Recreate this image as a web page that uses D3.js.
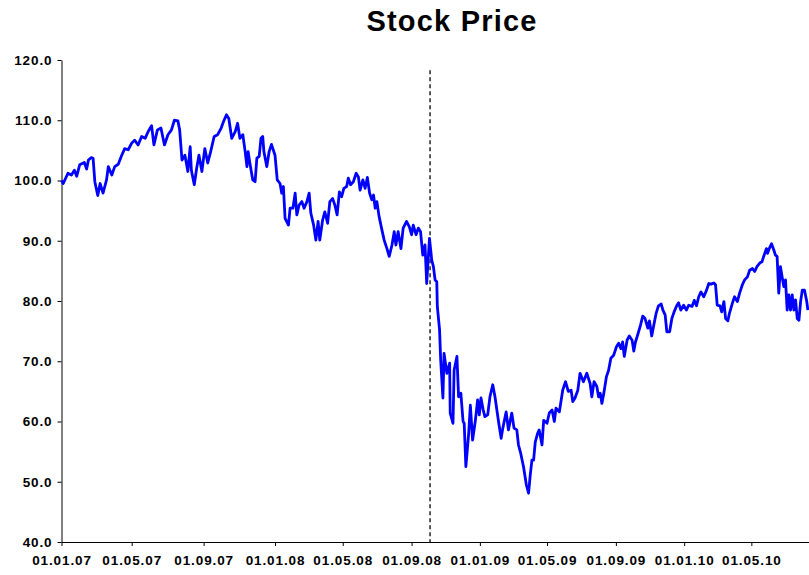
<!DOCTYPE html>
<html>
<head>
<meta charset="utf-8">
<script src="https://cdn.jsdelivr.net/npm/d3@7"></script>
<style>
  body { margin: 0; background: #fff; }
  svg { display: block; font-family: "Liberation Sans", Arial, sans-serif; }
</style>
</head>
<body>
<div id="chart"></div>
<script>
// price series
const dates = [
  "01.01.07","04.01.07","12.01.07","18.01.07","23.01.07","27.01.07","01.02.07","09.02.07","13.02.07","16.02.07",
  "21.02.07","24.02.07","27.02.07","04.03.07","08.03.07","13.03.07","19.03.07","22.03.07","28.03.07","02.04.07",
  "08.04.07","14.04.07","19.04.07","25.04.07","01.05.07","06.05.07","12.05.07","18.05.07","24.05.07","29.05.07",
  "04.06.07","08.06.07","14.06.07","20.06.07","26.06.07","02.07.07","08.07.07","13.07.07","19.07.07","22.07.07",
  "26.07.07","31.07.07","05.08.07","09.08.07","11.08.07","16.08.07","20.08.07","24.08.07","29.08.07","03.09.07",
  "08.09.07","13.09.07","19.09.07","25.09.07","01.10.07","05.10.07","10.10.07","14.10.07","19.10.07","25.10.07",
  "29.10.07","02.11.07","07.11.07","11.11.07","14.11.07","16.11.07","19.11.07","24.11.07","28.11.07","01.12.07",
  "05.12.07","08.12.07","11.12.07","13.12.07","18.12.07","22.12.07","26.12.07",
  "01.01.08","05.01.08","10.01.08","13.01.08","16.01.08","19.01.08","25.01.08","28.01.08","02.02.08","06.02.08",
  "09.02.08","13.02.08","18.02.08","22.02.08","27.02.08","02.03.08","05.03.08","10.03.08","14.03.08","18.03.08",
  "21.03.08","26.03.08","30.03.08","04.04.08","08.04.08","13.04.08","17.04.08","21.04.08","25.04.08","29.04.08",
  "03.05.08","08.05.08","11.05.08","15.05.08","20.05.08","25.05.08","29.05.08","01.06.08","06.06.08","10.06.08",
  "14.06.08","18.06.08","22.06.08","25.06.08","28.06.08","01.07.08","05.07.08","10.07.08","14.07.08","19.07.08",
  "23.07.08","28.07.08","01.08.08","04.08.08","08.08.08","13.08.08","17.08.08","23.08.08","28.08.08","01.09.08",
  "04.09.08","09.09.08","13.09.08","17.09.08","21.09.08","25.09.08","28.09.08","03.10.08","07.10.08","10.10.08",
  "13.10.08","16.10.08","17.10.08","21.10.08","23.10.08","27.10.08","29.10.08","03.11.08","08.11.08","09.11.08",
  "14.11.08","16.11.08","21.11.08","24.11.08","28.11.08","02.12.08","04.12.08","07.12.08","12.12.08","15.12.08",
  "19.12.08","24.12.08","28.12.08","31.12.08",
  "03.01.09","07.01.09","10.01.09","15.01.09","19.01.09","24.01.09","28.01.09","03.02.09","08.02.09","11.02.09",
  "17.02.09","21.02.09","27.02.09","03.03.09","08.03.09","11.03.09","15.03.09","20.03.09","25.03.09","29.03.09",
  "01.04.09","04.04.09","07.04.09","10.04.09","14.04.09","17.04.09","22.04.09","25.04.09","01.05.09","05.05.09",
  "10.05.09","14.05.09","17.05.09","23.05.09","29.05.09","03.06.09","08.06.09","13.06.09","16.06.09","20.06.09",
  "25.06.09","29.06.09","05.07.09","11.07.09","17.07.09","20.07.09","24.07.09","29.07.09","01.08.09","04.08.09",
  "07.08.09","11.08.09","15.08.09","19.08.09","23.08.09","28.08.09","02.09.09","06.09.09","10.09.09","13.09.09",
  "16.09.09","21.09.09","25.09.09","30.09.09","03.10.09","06.10.09","10.10.09","15.10.09","19.10.09","23.10.09",
  "28.10.09","31.10.09","04.11.09","09.11.09","12.11.09","16.11.09","21.11.09","24.11.09","28.11.09","01.12.09",
  "06.12.09","10.12.09","14.12.09","19.12.09","22.12.09","26.12.09","31.12.09",
  "05.01.10","09.01.10","15.01.10","19.01.10","23.01.10","27.01.10","31.01.10","05.02.10","10.02.10","14.02.10",
  "18.02.10","23.02.10","26.02.10","01.03.10","06.03.10","09.03.10","13.03.10","16.03.10","20.03.10","23.03.10",
  "28.03.10","01.04.10","06.04.10","10.04.10","15.04.10","19.04.10","24.04.10","28.04.10","03.05.10","07.05.10",
  "11.05.10","16.05.10","20.05.10","23.05.10","28.05.10","30.05.10","02.06.10","06.06.10","10.06.10","13.06.10",
  "16.06.10","19.06.10","22.06.10","25.06.10","28.06.10","01.07.10","04.07.10","07.07.10","10.07.10","13.07.10",
  "16.07.10","19.07.10","22.07.10","25.07.10","28.07.10","31.07.10","04.08.10","08.08.10","10.08.10"
];

const prices = [
  100.0, 99.5,101.2,100.9,101.7,100.7,102.6,103.0,101.9,103.4,
  103.8,103.7, 99.8, 97.5, 99.5, 97.9,100.1,102.3,100.9,102.3,
  102.7,104.2,105.3,105.1,106.2,106.7,105.9,107.3,107.0,108.1,
  109.1,105.9,108.4,108.7,105.9,107.6,108.4,110.0,109.9,108.4,
  103.4,104.2,101.5,105.6,101.7, 99.3,102.0,104.2,101.5,105.3,
  102.9,104.8,107.3,107.6,108.7,109.8,110.9,110.3,107.0,108.1,
  109.5,107.0,107.6,104.8,102.3,104.8,102.9,100.1, 99.8,103.7,
  104.0,107.0,107.3,104.8,102.3,104.8,106.0,
  104.2,100.1, 99.5, 97.9, 99.0, 93.7, 92.6, 95.4, 95.4, 97.9,
   94.3, 95.9, 96.5, 95.4, 96.5, 97.9, 94.6, 92.6, 90.1, 93.2,
   90.1, 93.4, 94.8, 92.9, 96.5, 97.0, 95.9, 94.3, 98.1, 97.3,
   98.7, 99.0,100.4, 99.3, 99.8,101.2,100.6, 98.4,100.1, 98.7,
  100.5, 97.9, 96.8, 97.6, 95.4, 96.5, 94.0, 91.8, 90.1, 88.7,
   87.4, 89.3, 91.5, 89.3, 91.5, 88.7, 92.1, 93.2, 92.3, 91.0,
   92.6, 91.0, 92.1, 91.5, 87.6, 89.3, 82.9, 90.4, 86.8, 85.7,
   83.5, 83.2, 79.1, 75.2, 70.2, 63.9, 71.3, 68.0, 69.7, 61.4,
   59.7, 68.5, 70.8, 64.1, 64.7, 60.0, 59.7, 52.5, 58.0, 62.7,
   56.9, 60.2, 63.6, 61.1,
   63.9, 61.9, 60.8, 61.1, 64.1, 66.1, 64.1, 60.2, 57.2, 58.9,
   61.6, 58.6, 61.4, 58.9, 58.6, 56.1, 54.7, 52.5, 49.5, 48.1,
   51.1, 53.6, 53.6, 56.6, 58.0, 58.6, 56.1, 60.2, 59.7, 61.4,
   61.9, 60.0, 62.2, 61.6, 65.2, 66.6, 65.0, 65.2, 63.3, 63.9,
   65.2, 68.0, 66.6, 68.0, 66.3, 64.1, 66.6, 65.8, 64.1, 64.7,
   63.0, 65.0, 67.4, 68.5, 70.5, 71.0, 72.4, 73.0, 72.1, 73.2,
   70.8, 73.5, 74.2, 73.5, 71.7, 73.2, 74.4, 76.0, 77.5, 77.1,
   75.5, 76.7, 74.2, 76.6, 78.0, 79.2, 79.5, 78.5, 77.7, 74.9,
   74.9, 77.1, 78.2, 79.3, 79.7, 78.5, 79.3,
   78.5, 79.3, 79.1, 80.1, 79.2, 80.7, 81.5, 80.7, 81.8, 82.9,
   82.8, 83.0, 82.7, 79.3, 79.2, 78.2, 79.9, 77.1, 76.7, 78.0,
   79.6, 80.7, 79.9, 81.3, 82.7, 83.5, 84.0, 85.1, 85.4, 84.9,
   85.7, 86.3, 86.5, 87.4, 88.7, 87.9, 88.7, 89.5, 88.5, 87.6,
   87.4, 81.3, 85.7, 84.0, 82.4, 83.5, 78.5, 81.0, 78.5, 81.0,
   78.5, 80.2, 77.1, 76.8, 79.9, 81.8, 81.8, 79.9, 78.5
];

const yTicks = [40, 50, 60, 70, 80, 90, 100, 110, 120];
const markerDate = "04.10.08";   // dashed event line
const markerTop = 118.3;
const title = "Stock Price";

const width = 809, height = 575;
const parse = d3.timeParse("%d.%m.%y");
const fmt = d3.timeFormat("%d.%m.%y");

const data = dates.map((d, i) => ({date: parse(d), value: prices[i]}));

const svg = d3.select("#chart").append("svg")
    .attr("width", width)
    .attr("height", height);

// the first year sits a little wider on the original axis
const x = d3.scaleTime()
    .domain([parse("01.01.07"), parse("01.01.08"), parse("12.08.10")])
    .range([61.5, 275, 809]);

const y = d3.scaleLinear()
    .domain([40, 120])
    .range([542, 60]);

svg.append("text")
    .attr("x", 452)
    .attr("y", 31)
    .attr("text-anchor", "middle")
    .attr("font-size", 29)
    .attr("font-weight", "bold")
    .attr("letter-spacing", 1.2)
    .text(title);

const styleTicks = g => g.selectAll(".tick text")
    .attr("font-family", "Liberation Sans, Arial, sans-serif")
    .attr("font-size", 13.5)
    .attr("font-weight", "bold")
    .attr("letter-spacing", 0.9)
    .attr("fill", "#000");

svg.append("g")
    .attr("transform", `translate(${x.range()[0]},0)`)
    .call(d3.axisLeft(y).tickValues(yTicks).tickFormat(d3.format(".1f")).tickSize(4).tickSizeOuter(0))
    .call(g => g.select(".domain").attr("stroke", "#000"))
    .call(g => g.selectAll(".tick line").attr("stroke", "#000"))
    .call(styleTicks)
    .call(g => g.selectAll(".tick text").attr("x", -9));

const xTicks = d3.timeMonth.every(4).range(parse("01.01.07"), parse("12.08.10"));

svg.append("g")
    .attr("transform", `translate(0,${y(40)})`)
    .call(d3.axisBottom(x).tickValues(xTicks).tickFormat(fmt).tickSize(4).tickSizeOuter(0))
    .call(g => g.select(".domain").attr("stroke", "#000"))
    .call(g => g.selectAll(".tick line").attr("stroke", "#000"))
    .call(styleTicks)
    .call(g => g.selectAll(".tick text").attr("y", 13));

// event marker
svg.append("line")
    .attr("x1", x(parse(markerDate)))
    .attr("x2", x(parse(markerDate)))
    .attr("y1", y(markerTop))
    .attr("y2", y(40))
    .attr("stroke", "#000")
    .attr("stroke-width", 1.3)
    .attr("stroke-dasharray", "4,3");

const line = d3.line()
    .x(d => x(d.date))
    .y(d => y(d.value));

svg.append("path")
    .datum(data)
    .attr("fill", "none")
    .attr("stroke", "#0000ff")
    .attr("stroke-width", 2.8)
    .attr("stroke-linejoin", "round")
    .attr("d", line);
</script>
</body>
</html>
